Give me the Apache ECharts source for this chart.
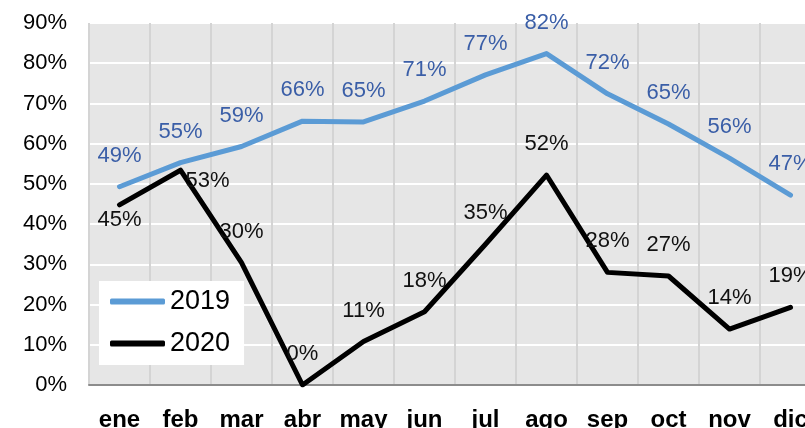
<!DOCTYPE html>
<html>
<head>
<meta charset="utf-8">
<script src="https://cdn.jsdelivr.net/npm/echarts@6/dist/echarts.min.js"></script>
<style>
  html, body { margin: 0; padding: 0; background: #fff; }
  #chart { width: 805px; height: 428px; }
</style>
</head>
<body>
<div id="chart"></div>
<script>
// Monthly percentages, 2019 vs 2020
const months = ['ene', 'feb', 'mar', 'abr', 'may', 'jun', 'jul', 'ago', 'sep', 'oct', 'nov', 'dic'];
const values2019 = [49.3, 55.3, 59.3, 65.6, 65.4, 70.6, 77.1, 82.4, 72.4, 64.9, 56.4, 47.2];
const values2020 = [44.8, 53.4, 30.4, 0.0, 10.8, 18.2, 35.0, 52.2, 28.0, 27.1, 13.9, 19.3];
const yTicks = [0, 10, 20, 30, 40, 50, 60, 70, 80, 90];

const FONT = '"Liberation Sans", Arial, sans-serif';
const pct = p => Math.round(p.value) + '%';

// Per-point label placement for the 2020 series
const labelPos2020 = months.map((m, i) => {
  if (i === 0) return { position: 'bottom', distance: 4 };
  if (i === 1) return { position: 'right', distance: 5, offset: [0, 11] };
  return { position: 'top', distance: 20 };
});

const chart = echarts.init(document.getElementById('chart'), null, { renderer: 'canvas' });

chart.setOption({
  animation: false,
  backgroundColor: '#ffffff',
  grid: {
    left: 89, top: 23, width: 732, height: 362,
    outerBoundsMode: 'none', containLabel: false,
    show: true, backgroundColor: '#e6e6e6', borderWidth: 0
  },
  xAxis: {
    type: 'category',
    data: months,
    boundaryGap: true,
    axisLine: { show: true, lineStyle: { color: '#8c8c8c', width: 2 } },
    axisTick: { show: false },
    axisLabel: {
      color: '#000', fontFamily: FONT, fontSize: 24, fontWeight: 'bold', margin: 23,
      interval: 0
    },
    splitLine: { show: true, interval: 0, lineStyle: { color: '#d4d4d4', width: 2 } },
    z: 1
  },
  yAxis: {
    type: 'value',
    min: yTicks[0], max: yTicks[yTicks.length - 1], interval: 10,
    axisLine: { show: false },
    axisTick: { show: false },
    axisLabel: {
      color: '#000', fontFamily: FONT, fontSize: 22, margin: 22,
      formatter: v => v + '%'
    },
    splitLine: { show: true, lineStyle: { color: '#ffffff', width: 2 } }
  },
  legend: {
    orient: 'vertical',
    left: 99, top: 281,
    backgroundColor: '#ffffff',
    padding: [7, 14, 8, 11],
    itemGap: 15,
    itemWidth: 55, itemHeight: 6,
    icon: 'roundRect',
    textStyle: { fontFamily: FONT, fontSize: 27, color: '#000' },
    data: ['2019', '2020']
  },
  series: [
    {
      name: '2019',
      type: 'line',
      data: values2019,
      symbol: 'circle', symbolSize: 0, showSymbol: true,
      itemStyle: { color: '#5b9bd5' },
      lineStyle: { color: '#5b9bd5', width: 5, cap: 'round', join: 'round' },
      label: {
        show: true, position: 'top', distance: 20, formatter: pct,
        color: '#3a5ea7', fontFamily: FONT, fontSize: 22
      },
      z: 3
    },
    {
      name: '2020',
      type: 'line',
      data: values2020.map((v, i) => ({ value: v, label: labelPos2020[i] })),
      symbol: 'circle', symbolSize: 0, showSymbol: true,
      itemStyle: { color: '#000000' },
      lineStyle: { color: '#000000', width: 5, cap: 'round', join: 'round' },
      label: {
        show: true, formatter: pct,
        color: '#111', fontFamily: FONT, fontSize: 22
      },
      z: 4
    }
  ]
});
</script>
</body>
</html>
